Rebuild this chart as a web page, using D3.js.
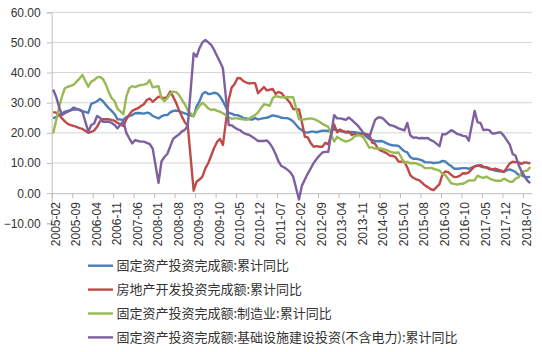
<!DOCTYPE html>
<html>
<head>
<meta charset="utf-8">
<script src="https://cdn.jsdelivr.net/npm/d3@7"></script>
<style>
  html, body { margin: 0; padding: 0; background: #fff; }
  svg { display: block; }
</style>
</head>
<body>
<svg id="chart" width="542" height="352"></svg>
<script>
// ---- Data (monthly cumulative YoY %, Feb 2005 – Sep 2018; January not published) ----
const startMonth = "2005-02";
const endMonth = "2018-09";
const yTicks = [-10, 0, 10, 20, 30, 40, 50, 60];
const seriesNames = [
  "固定资产投资完成额:累计同比",
  "房地产开发投资完成额:累计同比",
  "固定资产投资完成额:制造业:累计同比",
  "固定资产投资完成额:基础设施建设投资(不含电力):累计同比"
];
const seriesColors = ["#4a7ebb", "#be4b48", "#98b954", "#7d60a0"];

// each row = one year, Feb..Dec (2018: Feb..Sep)
const fai = [
  24.8, 25.3, 25.9, 26.5, 27.0, 27.3, 27.5, 27.7, 27.8, 27.7, 27.2,
  26.6, 29.6, 30.0, 30.5, 31.3, 30.5, 29.3, 28.2, 27.3, 26.2, 24.5,
  24.3, 25.3, 25.6, 25.9, 26.5, 26.6, 26.5, 26.4, 26.7, 26.5, 25.6,
  24.8, 25.5, 25.9, 25.9, 26.8, 27.3, 27.4, 27.2, 26.8, 26.5, 26.1,
  25.6, 28.8, 30.5, 32.9, 33.6, 32.9, 33.0, 33.3, 33.1, 32.1, 30.5,
  26.6, 26.4, 25.9, 25.9, 25.5, 24.9, 24.8, 24.5, 24.4, 24.9, 24.5,
  24.9, 25.0, 25.4, 25.8, 25.6, 25.4, 25.0, 24.9, 24.9, 24.5, 23.8,
  21.5, 20.9, 20.2, 20.1, 20.4, 20.4, 20.2, 20.5, 20.7, 20.7, 20.6,
  21.2, 20.9, 20.6, 20.4, 20.1, 20.1, 20.3, 20.2, 20.1, 19.9, 19.6,
  17.9, 17.6, 17.3, 17.2, 17.3, 17.0, 16.5, 16.1, 15.9, 15.8, 15.7,
  13.9, 13.5, 12.0, 11.4, 11.4, 11.2, 10.9, 10.3, 10.2, 10.2, 10.0,
  10.2, 10.7, 10.5, 9.6, 9.0, 8.1, 8.1, 8.2, 8.3, 8.3, 8.1,
  8.9, 9.2, 8.9, 8.6, 8.6, 8.3, 7.8, 7.5, 7.3, 7.2, 7.2,
  7.9, 7.5, 7.0, 6.1, 6.0, 5.5, 5.3, 5.4
];
const realEstate = [
  26.9, 26.7, 26.0, 24.8, 23.8, 23.0, 22.6, 22.3, 22.0, 21.6, 21.3,
  20.0, 20.3, 20.8, 22.0, 23.8, 24.5, 24.5, 24.5, 24.3, 24.0, 23.3,
  22.3, 24.5, 26.0, 27.3, 27.8, 28.2, 28.9, 29.5, 30.9, 31.4, 30.3,
  32.0, 31.8, 31.5, 32.0, 33.7, 32.0, 30.0, 27.5, 25.4, 23.5, 22.3,
  0.8, 3.8, 4.5, 5.5, 8.2, 10.0, 12.5, 15.0, 17.0, 18.0, 16.0,
  31.1, 35.1, 36.2, 38.2, 38.1, 37.2, 36.7, 36.4, 36.5, 36.5, 33.2,
  35.2, 34.1, 34.3, 34.6, 32.9, 33.6, 33.2, 32.0, 31.1, 29.9, 27.9,
  27.8, 23.5, 18.7, 18.5, 16.6, 15.4, 15.6, 15.4, 15.4, 16.7, 16.2,
  22.8, 20.2, 21.1, 20.6, 20.3, 20.5, 19.3, 19.7, 19.2, 19.5, 19.8,
  19.3, 16.8, 16.4, 14.7, 14.1, 13.7, 13.2, 12.5, 12.4, 11.9, 10.5,
  10.4, 8.5, 6.0, 5.1, 4.6, 4.3, 3.5, 2.6, 2.0, 1.3, 1.0,
  3.0, 6.2, 7.2, 7.0, 6.1, 5.3, 5.4, 5.8, 6.6, 6.5, 6.9,
  8.9, 9.1, 9.3, 8.8, 8.5, 7.9, 7.9, 8.1, 7.8, 7.5, 7.0,
  9.9, 10.4, 10.3, 10.2, 9.7, 10.2, 10.1, 9.9
];
const manufacturing = [
  19.8, 24.0, 28.5, 32.0, 34.8, 35.3, 35.6, 36.0, 37.0, 38.0, 39.2,
  35.3, 37.0, 37.5, 38.4, 38.6, 37.9, 36.0, 33.5, 31.5, 30.5, 28.0,
  26.2, 32.0, 34.8, 35.5, 35.2, 35.6, 35.9, 36.0, 36.3, 37.5, 35.1,
  35.5, 31.5, 30.5, 31.5, 33.0, 33.7, 33.5, 32.6, 30.9, 29.5, 27.5,
  25.4, 27.6, 28.9, 30.0, 29.2, 28.1, 27.6, 27.8, 27.3, 27.0, 26.5,
  25.2, 24.7, 24.8, 24.8, 24.6, 24.5, 24.3, 24.8, 25.4, 25.9, 26.8,
  29.5, 29.3, 29.0, 31.5, 32.2, 32.0, 31.8, 31.8, 31.9, 31.8, 31.8,
  24.5, 24.4, 24.5, 24.7, 24.8, 24.6, 24.2, 23.7, 23.0, 22.5, 22.0,
  17.1, 18.7, 18.0, 17.5, 17.1, 17.4, 17.9, 18.8, 19.3, 19.1, 18.5,
  15.1, 15.2, 14.8, 14.8, 14.8, 14.6, 14.3, 13.8, 13.5, 13.4, 13.5,
  10.0, 10.4, 9.9, 10.0, 9.9, 9.5, 9.1, 8.3, 8.3, 8.4, 8.1,
  7.5, 6.4, 6.0, 4.6, 3.3, 3.1, 2.8, 3.1, 3.1, 3.6, 4.2,
  4.3, 5.8, 5.3, 5.1, 5.5, 4.9, 4.5, 4.2, 4.1, 4.1, 4.8,
  3.8, 3.8, 4.8, 5.2, 6.8, 7.3, 7.5, 8.7
];
const infrastructure = [
  34.4, 32.0, 28.7, 25.9, 26.5, 27.0, 27.6, 28.4, 28.0, 27.6, 27.0,
  20.4, 22.6, 23.1, 25.6, 25.0, 23.7, 23.7, 23.7, 23.3, 22.6, 21.5,
  23.9, 20.0, 18.2, 16.5, 17.6, 17.3, 17.1, 17.1, 16.7, 16.3, 14.8,
  3.4, 10.5, 12.0, 13.0, 15.5, 18.0, 18.8, 19.5, 20.5, 21.0, 22.5,
  46.4, 45.3, 48.1, 50.0, 50.8, 50.0, 49.2, 47.5, 45.5, 43.5, 41.4,
  22.6, 22.5, 21.8, 21.2, 20.8, 20.0, 19.6, 19.3, 18.7, 18.0, 17.3,
  17.3, 17.5, 16.5, 15.0, 13.0, 10.5, 9.0, 8.5, 7.8, 7.0, 5.5,
  -2.1, 2.5, 4.5, 6.5, 8.2, 10.0, 11.3, 12.5, 13.5, 13.7, 13.7,
  25.9, 24.8, 24.8, 24.6, 24.3, 25.1, 24.3, 23.4, 22.5, 21.3, 20.0,
  18.5, 21.5, 24.3, 25.1, 25.1, 24.5, 23.5, 22.6, 22.4, 22.0, 21.5,
  20.8, 23.3, 19.2, 18.4, 18.5, 18.2, 18.3, 18.2, 18.3, 17.6, 17.2,
  15.6, 19.6, 19.5, 20.1, 20.9, 20.4, 19.7, 19.4, 19.0, 18.9, 17.4,
  27.3, 23.5, 23.3, 20.9, 21.1, 20.9, 19.8, 19.8, 20.1, 20.1, 19.0,
  16.1, 13.0, 12.4, 9.4, 7.3, 5.7, 4.2, 3.3
];
const seriesValues = [fai, realEstate, manufacturing, infrastructure];

// ---- Build month categories ----
const parse = d3.timeParse("%Y-%m");
const fmt = d3.timeFormat("%Y-%m");
const allMonths = d3.timeMonth.range(parse(startMonth), d3.timeMonth.offset(parse(endMonth), 1));
const monthLabels = allMonths.map(fmt);
const dataMonthIdx = allMonths.map((d, i) => i).filter(i => allMonths[i].getMonth() !== 0);

// ---- Layout ----
const svg = d3.select("#chart");
const plotLeft = 51.7, plotRight = 531.7, plotTop = 12.3, plotBottom = 223.3;

const x = d3.scaleLinear().domain([0, monthLabels.length]).range([plotLeft, plotRight]);
const y = d3.scaleLinear().domain([-10, 60]).range([plotBottom, plotTop]);

// gridlines
svg.append("g")
  .selectAll("line")
  .data(yTicks.filter(v => v !== 0 && v !== -10))
  .join("line")
  .attr("x1", plotLeft).attr("x2", plotRight)
  .attr("y1", d => y(d)).attr("y2", d => y(d))
  .attr("stroke", "#d4d4d4").attr("stroke-width", 1);

// y axis
const yAxis = svg.append("g")
  .attr("transform", `translate(${plotLeft},0)`)
  .call(d3.axisLeft(y).tickValues(yTicks).tickFormat(d3.format(".2f")).tickSize(5).tickPadding(6));
yAxis.select(".domain").attr("stroke", "#bfbfbf");
yAxis.selectAll(".tick line").attr("stroke", "#bfbfbf");
yAxis.selectAll("text")
  .attr("font-family", "'Liberation Sans', Arial, sans-serif")
  .attr("font-size", 12).attr("fill", "#333");

// x axis at y = 0
const xTickVals = d3.range(0, monthLabels.length, 7);
const xAxis = svg.append("g")
  .attr("transform", `translate(0,${y(0)})`)
  .call(d3.axisBottom(x).tickValues(xTickVals).tickFormat(i => monthLabels[i]).tickSize(5).tickSizeOuter(0));
xAxis.select(".domain").attr("stroke", "#bfbfbf");
xAxis.selectAll(".tick line").attr("stroke", "#bfbfbf");
xAxis.selectAll("text")
  .attr("font-family", "'Liberation Sans', Arial, sans-serif")
  .attr("font-size", 12).attr("fill", "#333")
  .attr("transform", "rotate(-90)")
  .attr("text-anchor", "end")
  .attr("x", -9).attr("y", 3.2).attr("dy", "0.35em");

// lines
const line = d3.line()
  .x(d => x(d.i + 0.5))
  .y(d => y(d.v));

seriesValues.forEach((vals, s) => {
  const pts = vals.map((v, k) => ({ i: dataMonthIdx[k], v }));
  svg.append("path")
    .datum(pts)
    .attr("fill", "none")
    .attr("stroke", seriesColors[s])
    .attr("stroke-width", 2.4)
    .attr("stroke-linejoin", "round")
    .attr("d", line);
});

// legend
const legend = svg.append("g");
seriesNames.forEach((name, s) => {
  const ly = 265.7 + s * 23.9;
  legend.append("line")
    .attr("x1", 88).attr("x2", 113)
    .attr("y1", ly).attr("y2", ly)
    .attr("stroke", seriesColors[s]).attr("stroke-width", 2.4);
  legend.append("text")
    .attr("x", 116.5).attr("y", ly)
    .attr("dy", "0.36em")
    .attr("font-family", "'Noto Sans CJK SC', sans-serif")
    .attr("font-size", 13)
    .attr("fill", "#333")
    .text(name);
});
</script>
</body>
</html>
